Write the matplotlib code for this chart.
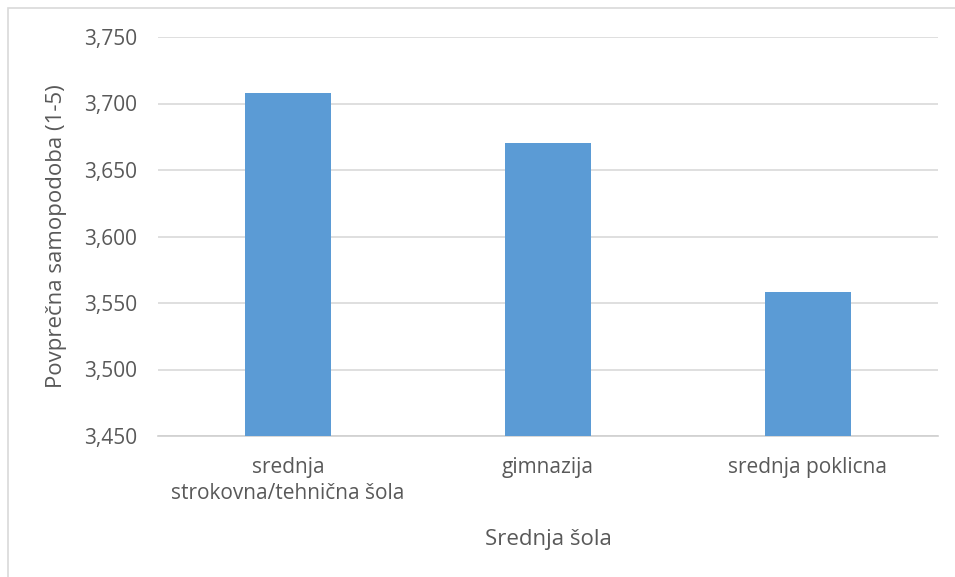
import matplotlib.pyplot as plt
from matplotlib.patches import Rectangle
from matplotlib.ticker import FuncFormatter

categories = ['srednja\nstrokovna/tehnična šola', 'gimnazija', 'srednja poklicna']
values = [3.708, 3.670, 3.558]
yticks = [3.450, 3.500, 3.550, 3.600, 3.650, 3.700, 3.750]

plt.rcParams['font.family'] = ['Open Sans', 'DejaVu Sans']
grey = '#595959'

fig = plt.figure(figsize=(9.55, 5.77), dpi=100)
W, H = 955, 577
ax = fig.add_axes([158 / W, 1 - 436 / H, (938 - 158) / W, (436 - 37) / H])

# chart frame, clipped at the right and bottom
fig.patches.append(Rectangle((8 / W, -0.1), 1.2, 1 - 8 / H + 0.1, transform=fig.transFigure,
                             fill=False, edgecolor='#d9d9d9', linewidth=1.2))

x = range(len(categories))
ax.bar(x, values, width=0.327, color='#5b9bd5', zorder=3)

ax.set_xlim(-0.5, 2.5)
ax.set_ylim(3.450, 3.750)
ax.set_yticks(yticks)
ax.yaxis.set_major_formatter(FuncFormatter(lambda v, p: f'{v:.3f}'.replace('.', ',')))
ax.set_xticks(list(x))
ax.set_xticklabels(categories, linespacing=1.3)

ax.grid(axis='y', color='#d9d9d9', linewidth=1.2, zorder=0)
for s in ['top', 'right', 'left']:
    ax.spines[s].set_visible(False)
ax.spines['bottom'].set_color('#d0d0d0')
ax.spines['bottom'].set_linewidth(1.2)
ax.tick_params(axis='both', length=0, labelsize=15, colors=grey)
ax.tick_params(axis='y', pad=15)
ax.tick_params(axis='x', pad=15)

ax.set_ylabel('Povprečna samopodoba (1-5)', fontsize=16, color=grey, labelpad=12)
ax.set_xlabel('Srednja šola', fontsize=16, color=grey, labelpad=18)

fig.savefig('out.png', dpi=100)
